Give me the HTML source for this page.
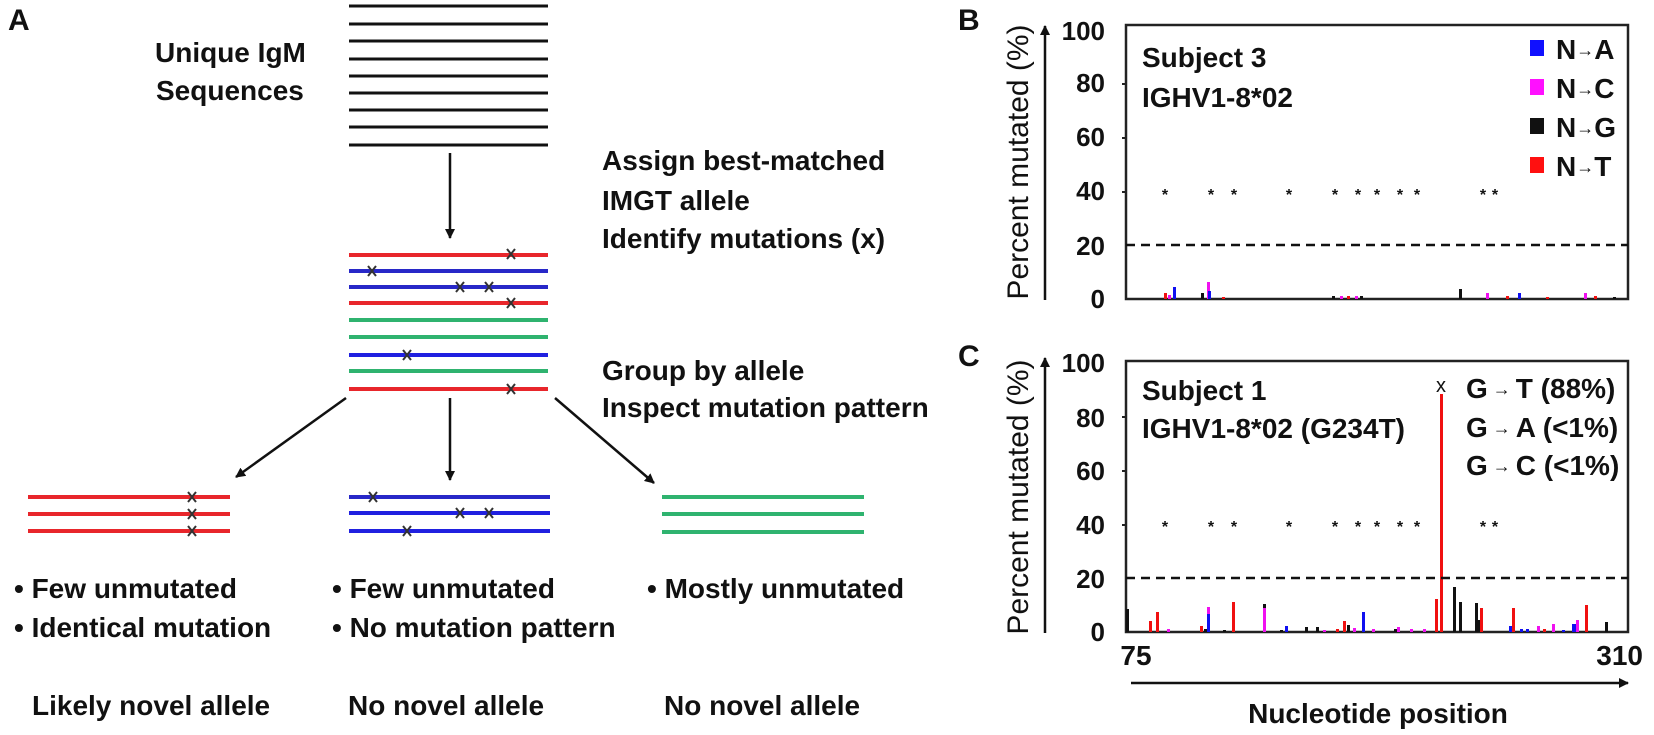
<!DOCTYPE html>
<html><head><meta charset="utf-8"><style>
html,body{margin:0;padding:0;background:#fff;}
svg{display:block;}
text{font-family:"Liberation Sans",Arial,sans-serif;font-weight:bold;fill:#111;}
</style></head><body>
<svg width="1654" height="735" viewBox="0 0 1654 735" xmlns="http://www.w3.org/2000/svg">
<defs>
<marker id="ah" markerWidth="10" markerHeight="10" refX="9" refY="5" orient="auto" markerUnits="userSpaceOnUse"><path d="M0,0 L10,5 L0,10 Z" fill="#111"/></marker>
<g id="xm"><path d="M-4,-5 L4,5 M4,-5 L-4,5" stroke="#333" stroke-width="2"/></g>
</defs>

<!-- Panel A -->
<text x="8" y="30" font-size="30">A</text>
<text x="155" y="62" font-size="28">Unique IgM</text>
<text x="156" y="100" font-size="28">Sequences</text>
<g stroke="#111" stroke-width="3">
<line x1="349" y1="6" x2="548" y2="6"/><line x1="349" y1="24" x2="548" y2="24"/>
<line x1="349" y1="41" x2="548" y2="41"/><line x1="349" y1="59" x2="548" y2="59"/>
<line x1="349" y1="76" x2="548" y2="76"/><line x1="349" y1="93" x2="548" y2="93"/>
<line x1="349" y1="110" x2="548" y2="110"/><line x1="349" y1="127" x2="548" y2="127"/>
<line x1="349" y1="145" x2="548" y2="145"/>
</g>
<line x1="450" y1="153" x2="450" y2="238" stroke="#111" stroke-width="2.5" marker-end="url(#ah)"/>
<text x="602" y="170" font-size="28">Assign best-matched</text>
<text x="602" y="210" font-size="28">IMGT allele</text>
<text x="602" y="248" font-size="28">Identify mutations (x)</text>
<text x="602" y="380" font-size="28">Group by allele</text>
<text x="602" y="417" font-size="28">Inspect mutation pattern</text>

<g stroke-width="4">
<line x1="349" y1="255" x2="548" y2="255" stroke="#e8262b"/>
<line x1="349" y1="271" x2="548" y2="271" stroke="#2828c8"/>
<line x1="349" y1="287" x2="548" y2="287" stroke="#2828c8"/>
<line x1="349" y1="303" x2="548" y2="303" stroke="#e8262b"/>
<line x1="349" y1="320" x2="548" y2="320" stroke="#2fb36f"/>
<line x1="349" y1="337" x2="548" y2="337" stroke="#2fb36f"/>
<line x1="349" y1="355" x2="548" y2="355" stroke="#2020e0"/>
<line x1="349" y1="371" x2="548" y2="371" stroke="#2fb36f"/>
<line x1="349" y1="389" x2="548" y2="389" stroke="#e8262b"/>
</g>
<use href="#xm" x="511" y="254"/><use href="#xm" x="372" y="271"/>
<use href="#xm" x="460" y="287"/><use href="#xm" x="489" y="287"/>
<use href="#xm" x="511" y="303"/><use href="#xm" x="407" y="355"/>
<use href="#xm" x="511" y="389"/>

<g stroke="#111" stroke-width="2.5">
<line x1="346" y1="398" x2="236" y2="477" marker-end="url(#ah)"/>
<line x1="450" y1="398" x2="450" y2="480" marker-end="url(#ah)"/>
<line x1="555" y1="398" x2="654" y2="483" marker-end="url(#ah)"/>
</g>

<g stroke-width="4">
<line x1="28" y1="497" x2="230" y2="497" stroke="#e8262b"/>
<line x1="28" y1="514" x2="230" y2="514" stroke="#e8262b"/>
<line x1="28" y1="531" x2="230" y2="531" stroke="#e8262b"/>
<line x1="349" y1="497" x2="550" y2="497" stroke="#2828c8"/>
<line x1="349" y1="513" x2="550" y2="513" stroke="#2020e0"/>
<line x1="349" y1="531" x2="550" y2="531" stroke="#2020e0"/>
<line x1="662" y1="497" x2="864" y2="497" stroke="#2fb36f"/>
<line x1="662" y1="514" x2="864" y2="514" stroke="#2fb36f"/>
<line x1="662" y1="532" x2="864" y2="532" stroke="#2fb36f"/>
</g>
<use href="#xm" x="192" y="497"/><use href="#xm" x="192" y="514"/><use href="#xm" x="192" y="531"/>
<use href="#xm" x="373" y="497"/><use href="#xm" x="460" y="513"/><use href="#xm" x="489" y="513"/>
<use href="#xm" x="407" y="531"/>

<text x="14" y="598" font-size="28">• Few unmutated</text>
<text x="14" y="637" font-size="28">• Identical mutation</text>
<text x="332" y="598" font-size="28">• Few unmutated</text>
<text x="332" y="637" font-size="28">• No mutation pattern</text>
<text x="647" y="598" font-size="28">• Mostly unmutated</text>
<text x="32" y="715" font-size="28">Likely novel allele</text>
<text x="348" y="715" font-size="28">No novel allele</text>
<text x="664" y="715" font-size="28">No novel allele</text>

<!-- Panel B -->
<text x="958" y="30" font-size="30">B</text>
<text transform="translate(1028,162) rotate(-90)" text-anchor="middle" font-size="30" font-weight="normal" style="font-weight:normal">Percent mutated (%)</text>
<line x1="1045" y1="300" x2="1045" y2="26" stroke="#111" stroke-width="2.5" marker-end="url(#ah)"/>
<g font-size="26" text-anchor="end">
<text x="1105" y="40">100</text><text x="1105" y="92">80</text><text x="1105" y="146">60</text>
<text x="1105" y="200">40</text><text x="1105" y="255">20</text><text x="1105" y="308">0</text>
</g>
<rect x="1126" y="25" width="502" height="274" fill="none" stroke="#222" stroke-width="2.5"/>
<g stroke="#222" stroke-width="2"><line x1="1122" y1="84" x2="1126" y2="84"/><line x1="1122" y1="138" x2="1126" y2="138"/><line x1="1122" y1="192" x2="1126" y2="192"/></g>
<line x1="1126" y1="245" x2="1628" y2="245" stroke="#111" stroke-width="2.5" stroke-dasharray="9,6"/>
<text x="1142" y="67" font-size="28">Subject 3</text>
<text x="1142" y="107" font-size="28">IGHV1-8*02</text>
<rect x="1530" y="40" width="14" height="16" fill="#1010ff"/>
<rect x="1530" y="79" width="14" height="16" fill="#ff10ff"/>
<rect x="1530" y="118" width="14" height="16" fill="#111"/>
<rect x="1530" y="157" width="14" height="16" fill="#ff1010"/>
<g font-size="28" font-weight="normal">
<text x="1556" y="59">N<tspan font-size="18" dy="-3">→</tspan><tspan dy="3">A</tspan></text>
<text x="1556" y="98">N<tspan font-size="18" dy="-3">→</tspan><tspan dy="3">C</tspan></text>
<text x="1556" y="137">N<tspan font-size="18" dy="-3">→</tspan><tspan dy="3">G</tspan></text>
<text x="1556" y="176">N<tspan font-size="18" dy="-3">→</tspan><tspan dy="3">T</tspan></text>
</g>
<g font-size="16" font-weight="normal" text-anchor="middle">
<text x="1165" y="200">*</text><text x="1211" y="200">*</text><text x="1234" y="200">*</text>
<text x="1289" y="200">*</text><text x="1335" y="200">*</text><text x="1358" y="200">*</text>
<text x="1377" y="200">*</text><text x="1400" y="200">*</text><text x="1417" y="200">*</text>
<text x="1483" y="200">*</text><text x="1495" y="200">*</text>
</g>
<g>
<rect x="1164" y="293" width="3" height="6" fill="#f01010"/>
<rect x="1168" y="295" width="3" height="4" fill="#f010f0"/>
<rect x="1173" y="287" width="3" height="12" fill="#1010f0"/>
<rect x="1201" y="293" width="3" height="6" fill="#111"/>
<rect x="1207" y="282" width="3" height="17" fill="#f010f0"/>
<rect x="1208" y="291" width="3" height="8" fill="#1010f0"/>
<rect x="1222" y="297" width="3" height="2" fill="#f01010"/>
<rect x="1332" y="296" width="3" height="3" fill="#111"/>
<rect x="1340" y="296" width="3" height="3" fill="#f010f0"/>
<rect x="1347" y="296" width="3" height="3" fill="#f01010"/>
<rect x="1355" y="296" width="3" height="3" fill="#f010f0"/>
<rect x="1360" y="296" width="3" height="3" fill="#111"/>
<rect x="1459" y="289" width="3" height="10" fill="#111"/>
<rect x="1486" y="293" width="3" height="6" fill="#f010f0"/>
<rect x="1506" y="296" width="3" height="3" fill="#f01010"/>
<rect x="1518" y="293" width="3" height="6" fill="#1010f0"/>
<rect x="1546" y="297" width="3" height="2" fill="#f01010"/>
<rect x="1584" y="293" width="3" height="6" fill="#f010f0"/>
<rect x="1594" y="296" width="3" height="3" fill="#f01010"/>
<rect x="1613" y="297" width="3" height="2" fill="#111"/>
</g>

<!-- Panel C -->
<text x="958" y="366" font-size="30">C</text>
<text transform="translate(1028,497) rotate(-90)" text-anchor="middle" font-size="30" style="font-weight:normal">Percent mutated (%)</text>
<line x1="1045" y1="633" x2="1045" y2="358" stroke="#111" stroke-width="2.5" marker-end="url(#ah)"/>
<g font-size="26" text-anchor="end">
<text x="1105" y="372">100</text><text x="1105" y="427">80</text><text x="1105" y="480">60</text>
<text x="1105" y="534">40</text><text x="1105" y="588">20</text><text x="1105" y="641">0</text>
</g>
<rect x="1126" y="361" width="502" height="271" fill="none" stroke="#222" stroke-width="2.5"/>
<g stroke="#222" stroke-width="2"><line x1="1122" y1="417" x2="1126" y2="417"/><line x1="1122" y1="471" x2="1126" y2="471"/><line x1="1122" y1="525" x2="1126" y2="525"/></g>
<text x="1142" y="400" font-size="28">Subject 1</text>
<text x="1142" y="438" font-size="28">IGHV1-8*02 (G234T)</text>
<g font-size="28" font-weight="normal">
<text x="1466" y="398">G<tspan font-size="18" dy="-3"> → </tspan><tspan dy="3">T (88%)</tspan></text>
<text x="1466" y="437">G<tspan font-size="18" dy="-3"> → </tspan><tspan dy="3">A (&lt;1%)</tspan></text>
<text x="1466" y="475">G<tspan font-size="18" dy="-3"> → </tspan><tspan dy="3">C (&lt;1%)</tspan></text>
</g>
<g font-size="16" font-weight="normal" text-anchor="middle">
<text x="1165" y="532">*</text><text x="1211" y="532">*</text><text x="1234" y="532">*</text>
<text x="1289" y="532">*</text><text x="1335" y="532">*</text><text x="1358" y="532">*</text>
<text x="1377" y="532">*</text><text x="1400" y="532">*</text><text x="1417" y="532">*</text>
<text x="1483" y="532">*</text><text x="1495" y="532">*</text>
</g>
<g>
<rect x="1126" y="609" width="3" height="23" fill="#111"/>
<rect x="1149" y="621" width="3" height="11" fill="#f01010"/>
<rect x="1156" y="612" width="3" height="20" fill="#f01010"/>
<rect x="1167" y="629" width="3" height="3" fill="#f010f0"/>
<rect x="1200" y="626" width="3" height="6" fill="#f01010"/>
<rect x="1204" y="629" width="3" height="3" fill="#111"/>
<rect x="1207" y="607" width="3" height="25" fill="#f010f0"/>
<rect x="1207" y="614" width="3" height="18" fill="#1010f0"/>
<rect x="1223" y="630" width="3" height="2" fill="#111"/>
<rect x="1232" y="602" width="3" height="30" fill="#f01010"/>
<rect x="1263" y="606" width="3" height="26" fill="#f010f0"/>
<rect x="1263" y="604" width="3" height="4" fill="#111"/>
<rect x="1280" y="630" width="3" height="2" fill="#111"/>
<rect x="1285" y="626" width="3" height="6" fill="#1010f0"/>
<rect x="1305" y="627" width="3" height="5" fill="#111"/>
<rect x="1316" y="627" width="3" height="5" fill="#111"/>
<rect x="1323" y="630" width="3" height="2" fill="#f010f0"/>
<rect x="1336" y="629" width="3" height="3" fill="#f01010"/>
<rect x="1343" y="621" width="3" height="11" fill="#f01010"/>
<rect x="1347" y="625" width="3" height="7" fill="#111"/>
<rect x="1353" y="628" width="3" height="4" fill="#f010f0"/>
<rect x="1362" y="612" width="3" height="20" fill="#1010f0"/>
<rect x="1372" y="629" width="3" height="3" fill="#f010f0"/>
<rect x="1394" y="629" width="3" height="3" fill="#111"/>
<rect x="1397" y="627" width="3" height="5" fill="#f010f0"/>
<rect x="1410" y="629" width="3" height="3" fill="#f010f0"/>
<rect x="1423" y="629" width="3" height="3" fill="#f010f0"/>
<rect x="1435" y="599" width="3" height="33" fill="#f01010"/>
<rect x="1440" y="394" width="3" height="238" fill="#f01010"/>
<rect x="1453" y="587" width="3" height="45" fill="#111"/>
<rect x="1459" y="602" width="3" height="30" fill="#111"/>
<rect x="1475" y="603" width="3" height="29" fill="#111"/>
<rect x="1480" y="608" width="3" height="24" fill="#f01010"/>
<rect x="1477" y="620" width="3" height="12" fill="#111"/>
<rect x="1509" y="626" width="3" height="6" fill="#1010f0"/>
<rect x="1512" y="608" width="3" height="24" fill="#f01010"/>
<rect x="1520" y="629" width="3" height="3" fill="#1010f0"/>
<rect x="1526" y="629" width="3" height="3" fill="#1010f0"/>
<rect x="1537" y="626" width="3" height="6" fill="#f010f0"/>
<rect x="1543" y="629" width="3" height="3" fill="#f01010"/>
<rect x="1552" y="624" width="3" height="8" fill="#f010f0"/>
<rect x="1562" y="630" width="3" height="2" fill="#1010f0"/>
<rect x="1572" y="624" width="4" height="8" fill="#1010f0"/>
<rect x="1576" y="620" width="3" height="12" fill="#f010f0"/>
<rect x="1585" y="605" width="3" height="27" fill="#f01010"/>
<rect x="1605" y="622" width="3" height="10" fill="#111"/>
</g>
<line x1="1126" y1="578" x2="1628" y2="578" stroke="#111" stroke-width="2.5" stroke-dasharray="9,6"/>
<text x="1441" y="392" font-size="20" text-anchor="middle" style="font-weight:normal">x</text>
<text x="1136" y="665" font-size="28" text-anchor="middle">75</text>
<text x="1643" y="665" font-size="28" text-anchor="end">310</text>
<line x1="1131" y1="683" x2="1628" y2="683" stroke="#111" stroke-width="2.5" marker-end="url(#ah)"/>
<text x="1378" y="723" font-size="28" text-anchor="middle">Nucleotide position</text>
</svg>
</body></html>
